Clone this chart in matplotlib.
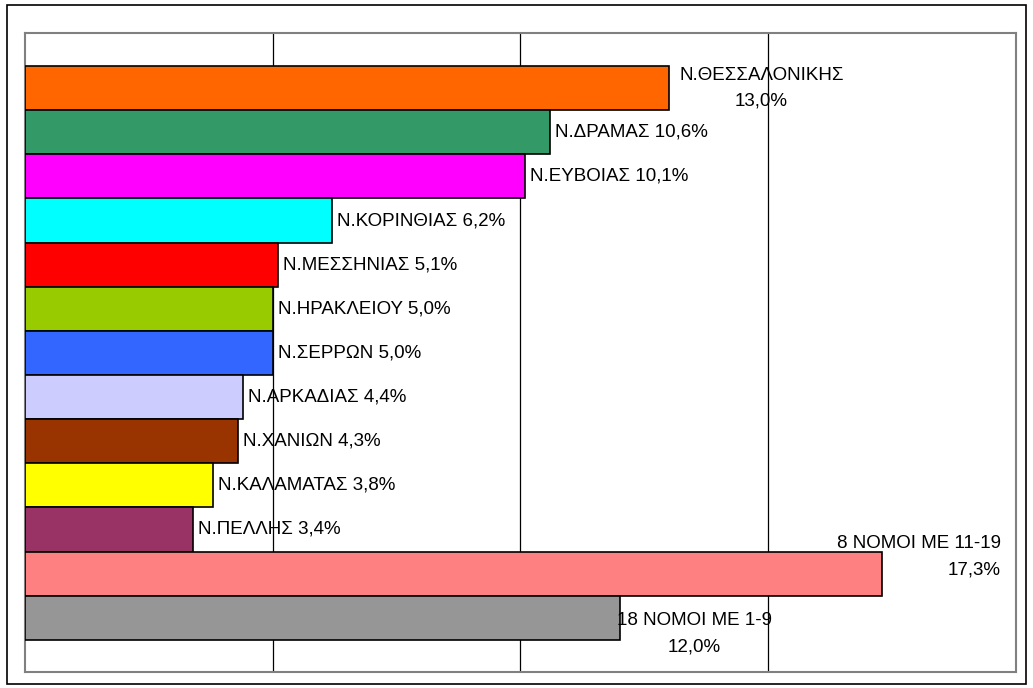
import matplotlib.pyplot as plt
import matplotlib.patches as patches

names = ['Ν.ΘΕΣΣΑΛΟΝΙΚΗΣ', 'Ν.ΔΡΑΜΑΣ', 'Ν.ΕΥΒΟΙΑΣ', 'Ν.ΚΟΡΙΝΘΙΑΣ', 'Ν.ΜΕΣΣΗΝΙΑΣ',
         'Ν.ΗΡΑΚΛΕΙΟΥ', 'Ν.ΣΕΡΡΩΝ', 'Ν.ΑΡΚΑΔΙΑΣ', 'Ν.ΧΑΝΙΩΝ', 'Ν.ΚΑΛΑΜΑΤΑΣ',
         'Ν.ΠΕΛΛΗΣ', '8 ΝΟΜΟΙ ΜΕ 11-19', '18 ΝΟΜΟΙ ΜΕ 1-9']
values = [13.0, 10.6, 10.1, 6.2, 5.1, 5.0, 5.0, 4.4, 4.3, 3.8, 3.4, 17.3, 12.0]
colors = ['#FF6600', '#339966', '#FF00FF', '#00FFFF', '#FF0000', '#99CC00', '#3366FF',
          '#CCCCFF', '#993300', '#FFFF00', '#993366', '#FF8080', '#969696']

plt.rcParams['font.family'] = ['Liberation Sans', 'DejaVu Sans']

fig = plt.figure(figsize=(10.33, 6.88), dpi=100)
ax = fig.add_axes([0.0242, 0.0233, 0.9593, 0.9287])

# outer frame of the chart
fig.patches.append(patches.Rectangle((7 / 1033, 4 / 688), 1019 / 1033, 679 / 688,
                                     transform=fig.transFigure, fill=False,
                                     edgecolor='black', linewidth=1.2))

y = list(range(len(values)))
ax.barh(y, values, height=1.0, color=colors, edgecolor='black', linewidth=1.2, zorder=3)

ax.set_xlim(0, 20)
ax.set_ylim(len(values) - 0.5 + 0.73, -1.25)
ax.set_xticks([5, 10, 15])
ax.set_yticks([])
ax.tick_params(axis='x', length=0, labelbottom=False)
ax.grid(axis='x', color='black', linewidth=0.9, zorder=0)
for sp in ax.spines.values():
    sp.set_color('#808080')
    sp.set_linewidth(1.5)

fs = 13.5
ls = 1.7
for i, (n, v) in enumerate(zip(names, values)):
    txt = f'{v:.1f}'.replace('.', ',') + '%'
    if i == 0:
        ax.text(v + 0.2, i, n + '\n' + txt, ha='left', va='center',
                multialignment='center', fontsize=fs, linespacing=ls, zorder=4)
    elif i == len(values) - 2:
        ax.text(19.7, i - 0.38, n + '\n' + txt, ha='right', va='center',
                multialignment='right', fontsize=fs, linespacing=ls, zorder=4)
    elif i == len(values) - 1:
        ax.text(v - 0.05, i + 0.36, n + '\n' + txt, ha='left', va='center',
                multialignment='center', fontsize=fs, linespacing=ls, zorder=4)
    else:
        ax.text(v + 0.1, i, n + ' ' + txt, ha='left', va='center', fontsize=fs, zorder=4)

fig.savefig('out.png', dpi=100)
